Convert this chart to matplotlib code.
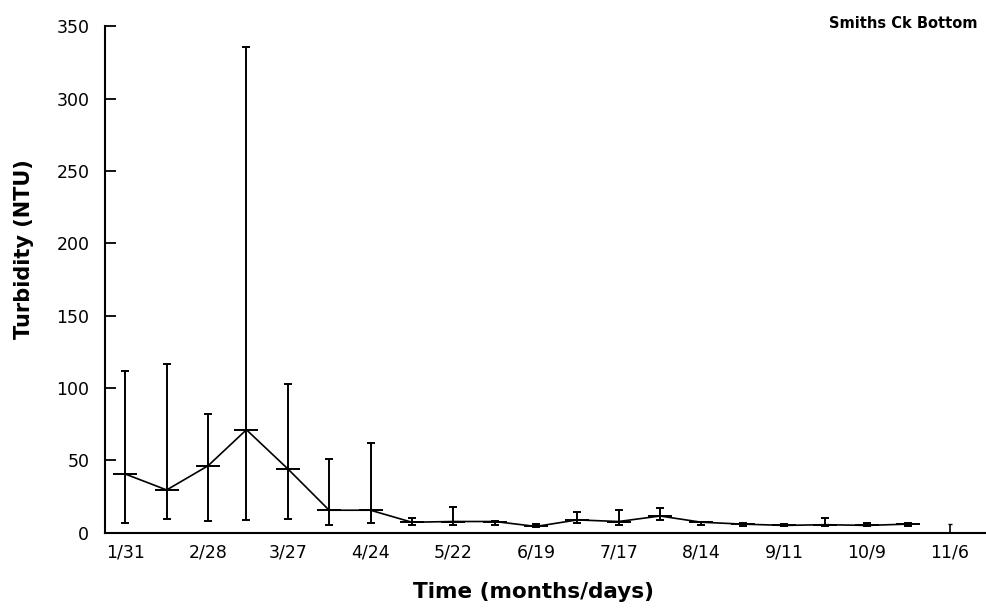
import datetime as dt
import numpy as np
import matplotlib
matplotlib.use("Agg")
import matplotlib.pyplot as plt

# Sampling dates (biweekly) and turbidity statistics in NTU
dates = ["1/31", "2/14", "2/28", "3/13", "3/27", "4/10", "4/24", "5/8", "5/22",
         "6/5", "6/19", "7/3", "7/17", "7/31", "8/14", "8/28", "9/11", "9/25",
         "10/9", "10/23"]
mean_ntu = [40.6, 29.6, 46.3, 71.2, 44.2, 15.6, 15.6, 7.3, 7.8, 7.8, 4.4, 8.9,
            7.8, 11.6, 7.3, 6.0, 5.1, 5.6, 5.1, 6.0]
max_ntu = [112, 116.7, 81.9, 335.7, 102.6, 51.2, 62.1, 10.4, 17.8, 8.2, 6.0,
           14.4, 15.6, 17.1, 7.8, 6.7, 6.0, 10.0, 6.7, 6.7]
min_ntu = [6.7, 9.6, 8.4, 8.9, 9.6, 5.6, 6.7, 5.6, 5.6, 5.6, 3.8, 6.7, 5.6,
           8.9, 5.6, 4.9, 4.4, 4.4, 4.4, 4.9]

# Final sample: only a range was recorded
last_date = "11/6"
last_min, last_max = 0.0, 6.0

tick_labels = ["1/31", "2/28", "3/27", "4/24", "5/22", "6/19", "7/17", "8/14",
               "9/11", "10/9", "11/6"]
title_text = "Smiths Ck Bottom"


def day_of(md, start="1/31"):
    m, d = map(int, md.split("/"))
    m0, d0 = map(int, start.split("/"))
    return (dt.date(1990, m, d) - dt.date(1990, m0, d0)).days


x = np.array([day_of(s) for s in dates])
mean = np.array(mean_ntu)
lo = mean - np.array(min_ntu)
hi = np.array(max_ntu) - mean

fig = plt.figure(figsize=(9.87, 6.11), dpi=100)
ax = fig.add_axes([0.106, 0.128, 0.892, 0.829])

ax.plot(x, mean, color="black", lw=1.2, zorder=3)
ax.errorbar(x, mean, yerr=[lo, hi], fmt="none", ecolor="black",
            elinewidth=1.4, capsize=2.6, capthick=1.4, zorder=2)
ax.plot(x, mean, ls="none", marker="_", markersize=17, mew=1.4,
        color="black", zorder=4)

xl = day_of(last_date)
ax.errorbar([xl], [last_min], yerr=[[0], [last_max - last_min]], fmt="none",
            ecolor="black", elinewidth=1.2, capsize=1.5, capthick=1.0)

ax.set_xlim(-7, 291)
ax.set_ylim(0, 350)
ax.set_xticks([day_of(t) for t in tick_labels])
ax.set_xticklabels(tick_labels)
ax.set_yticks(np.arange(0, 351, 50))

for s in ("top", "right"):
    ax.spines[s].set_visible(False)
for s in ("left", "bottom"):
    ax.spines[s].set_linewidth(1.5)

ax.tick_params(axis="y", direction="in", length=8, width=1.3, pad=11,
               labelsize=12.5)
ax.tick_params(axis="x", direction="in", length=0, width=1.0, pad=8,
               labelsize=12.5)

ax.set_ylabel("Turbidity (NTU)", fontsize=15, fontweight="bold")
ax.yaxis.set_label_coords(-0.080, 0.56)
ax.set_xlabel("Time (months/days)", fontsize=15.5, fontweight="bold")
ax.xaxis.set_label_coords(0.487, -0.097)

fig.text(0.915, 0.962, title_text, ha="center", va="center", fontsize=10.5,
         fontweight="bold")

fig.savefig("out.png", dpi=100, facecolor="white")
